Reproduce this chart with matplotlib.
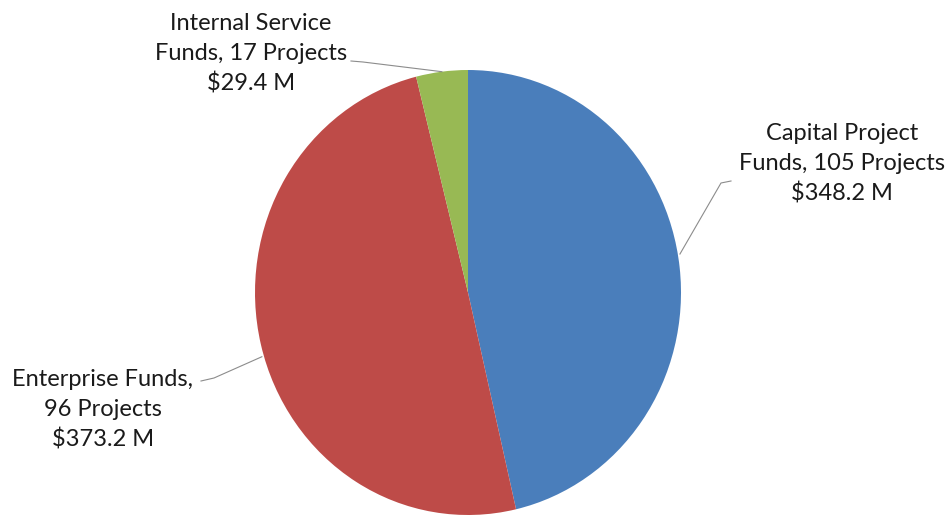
import numpy as np
import matplotlib.pyplot as plt

plt.rcParams['font.family'] = ['Lato', 'DejaVu Sans']

# data
funds = ['Capital Project', 'Enterprise', 'Internal Service']
projects = [105, 96, 17]
amounts = [348.2, 373.2, 29.4]  # $ millions
colors = ['#4A7EBB', '#BE4B48', '#98B954']

W, H = 951, 518
fig = plt.figure(figsize=(W / 100, H / 100), dpi=100)

# pie bounding box in pixels (left, right, top, bottom) -- slightly oval in the reference
px_l, px_r, px_t, px_b = 255, 681, 70, 515
ax = fig.add_axes([px_l / W, 1 - px_b / H, (px_r - px_l) / W, (px_b - px_t) / H])
wedges, _ = ax.pie(amounts, colors=colors, startangle=90, counterclock=False,
                   radius=1.0, wedgeprops=dict(linewidth=0))
ax.set_aspect('auto')
ax.set_xlim(-1, 1)
ax.set_ylim(-1, 1)
ax.axis('off')

cx = (px_l + px_r) / 2
cy = (px_t + px_b) / 2
rx = (px_r - px_l) / 2
ry = (px_b - px_t) / 2


def to_fig(px, py):
    return px / W, 1 - py / H


def edge_point(w, frac=0.5, r=1.0):
    ang = np.radians(w.theta1 + frac * (w.theta2 - w.theta1))
    return cx + r * rx * np.cos(ang), cy - r * ry * np.sin(ang)


# label text: position (pixels, centre), leader elbow points (pixels)
labels = [
    f'{funds[0]}\nFunds, {projects[0]} Projects\n${amounts[0]} M',
    f'{funds[1]} Funds,\n{projects[1]} Projects\n${amounts[1]} M',
    f'{funds[2]}\nFunds, {projects[2]} Projects\n${amounts[2]} M',
]
text_pos = [(842, 164), (103, 410), (251, 54)]
leader = [
    [(731, 181), (721, 183)],
    [(201, 381), (214, 378)],
    [(351, 61), (363, 62)],
]
edge_frac = [0.52, 0.517, 0.5]
edge_r = [1.01, 1.01, 1.0]

for w, lab, tp, pts, fr, rr in zip(wedges, labels, text_pos, leader, edge_frac, edge_r):
    fig.text(*to_fig(*tp), lab, ha='center', va='center', fontsize=17,
             color='#1a1a1a', linespacing=1.5)
    ex, ey = edge_point(w, fr, rr)
    xs = [p[0] for p in pts] + [ex]
    ys = [p[1] for p in pts] + [ey]
    fx, fy = zip(*[to_fig(x, y) for x, y in zip(xs, ys)])
    fig.add_artist(plt.Line2D(fx, fy, color='#8c8c8c', linewidth=0.8))

fig.savefig('out.png', dpi=100, facecolor='white')
